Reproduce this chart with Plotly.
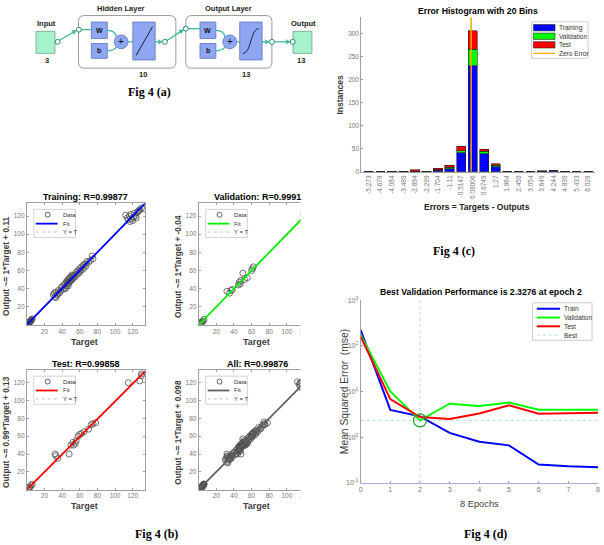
import plotly.graph_objects as go

W, H = 604, 545
def X(p): return p / W
def Y(p): return 1 - p / H

FONT = "Liberation Sans"
SERIF = "Liberation Serif"

# ---------------- Data ----------------
# Fig 4(c) error histogram
bin_labels = ["-5.273", "-4.678", "-4.084", "-3.489", "-2.894", "-2.299", "-1.704", "-1.11", "-0.5147",
              "0.08006", "0.6749", "1.27", "1.864", "2.459", "3.054", "3.649", "4.244", "4.839", "5.433", "6.028"]
hist_train = [1, 0, 0, 1, 1, 0, 3, 7, 41, 230, 39, 11, 1, 1, 0, 1, 2, 0, 0, 1]
hist_val   = [0, 0, 0, 0, 0, 1, 2, 3, 5, 36, 6, 3, 0, 0, 0, 0, 0, 0, 0, 0]
hist_test  = [0, 0, 0, 0, 3, 0, 3, 4, 10, 40, 4, 4, 0, 0, 0, 1, 0, 0, 0, 0]
hist_yticks = [0, 50, 100, 150, 200, 250, 300]

# Fig 4(d) performance
epochs = [0, 1, 2, 3, 4, 5, 6, 7, 8]
train_mse = [224, 3.95, 2.85, 1.24, 0.79, 0.66, 0.25, 0.23, 0.22]
val_mse   = [175, 10.0, 2.3276, 5.4, 4.8, 5.7, 4.0, 4.0, 4.0]
test_mse  = [161, 6.8, 2.75, 2.5, 3.3, 5.0, 3.25, 3.35, 3.4]
best_epoch = 2
best_val = 2.3276
perf_ytickvals = [0.1, 1, 10, 100, 1000]
perf_yticktext = ["10<sup>-1</sup>", "10<sup>0</sup>", "10<sup>1</sup>", "10<sup>2</sup>", "10<sup>3</sup>"]

# Fig 4(b) regression
train_t = [0.5, 1, 1.5, 2, 2.5, 3, 3.5, 4, 4.5, 5, 1, 2, 3, 4, 1.2, 2.2, 3.3, 4.4, 5.5, 6,
           30, 31, 32, 33, 34, 35, 36, 37, 38, 39, 33,
           40, 41, 42, 43, 44, 45, 46, 46, 47, 47, 48, 48, 49, 50, 50, 51, 52, 52, 53, 54, 55, 56,
           57, 58, 59, 60, 60, 61, 62, 63, 64, 65, 66, 67, 68, 70, 72, 74, 75, 44, 45, 47, 49, 51,
           112, 114, 115, 116, 117, 118, 119, 120, 121, 122, 123, 124, 125, 126, 127, 128, 130, 133]
train_o = [0.5, 1.2, 1, 2.3, 2, 3.1, 3.4, 3.8, 4.6, 5.2, 0.8, 1.8, 2.7, 4.2, 1.5, 2.6, 3.0, 4.1, 5.8, 6.5,
           33, 35, 31, 36, 33, 34, 38, 35, 37, 41, 30,
           42, 39, 44, 41, 46, 43, 48, 45, 50, 46, 47, 51, 48, 49, 53, 50, 54, 51, 52, 55, 53, 58,
           56, 60, 57, 62, 59, 60, 64, 61, 66, 63, 67, 65, 70, 69, 71, 76, 73, 40, 48, 43, 52, 55,
           121, 118, 116, 120, 114, 122, 117, 115, 119, 123, 120, 118, 124, 125, 126, 127, 129, 128]
val_t = [1, 2, 3, 4, 5, 6, 32, 35, 37, 38, 45, 46, 47, 48, 50, 52, 55, 60, 61, 62, 119, 121, 122]
val_o = [1, 2, 3, 3, 4, 6, 37, 35, 38, 39, 44, 47, 45, 49, 57, 50, 52, 60, 62, 64, 122, 117, 124]
test_t = [1, 2, 3, 4, 5, 6, 32, 33, 35, 48, 50, 52, 53, 55, 56, 58, 60, 62, 65, 70, 73, 75, 78,
          115, 128, 130, 130]
test_o = [1, 2, 3, 3, 5, 6, 40, 38, 35, 40, 50, 53, 50, 52, 55, 60, 62, 63, 65, 68, 73, 74, 75,
          120, 122, 128, 130]
all_t = train_t + val_t + test_t
all_o = train_o + val_o + test_o

reg_titles = ["Training: R=0.99877", "Validation: R=0.9991", "Test: R=0.99858", "All: R=0.99876"]
reg_ylabels = ["Output ~= 1*Target + 0.11", "Output ~= 1*Target + -0.04",
               "Output ~= 0.99*Target + 0.13", "Output ~= 1*Target + 0.098"]
fit_m = [1, 1, 0.99, 1]
fit_b = [0.11, -0.04, 0.13, 0.098]
reg_ticks = [20, 40, 60, 80, 100, 120]
reg_range = [0, 134]

# ---------------- Figure ----------------
fig = go.Figure()
shapes = []
ann = []

def text(x, y, s, size, color="#000", bold=False, family=FONT, angle=0, xanchor="center"):
    if bold:
        s = "<b>" + s + "</b>"
    ann.append(dict(x=X(x), y=Y(y), xref="paper", yref="paper", text=s, showarrow=False,
                    font=dict(family=family, size=size, color=color), textangle=angle,
                    xanchor=xanchor, yanchor="middle"))

# ---- Histogram (axis 1) ----
colors_h = ["#0000ff", "#00ff00", "#ff0000"]
for name, vals, c in zip(["Training", "Validation", "Test"], [hist_train, hist_val, hist_test], colors_h):
    fig.add_trace(go.Bar(x=list(range(len(bin_labels))), y=vals, name=name, width=0.8,
                         marker=dict(color=c, line=dict(color="#222", width=0.6)),
                         xaxis="x", yaxis="y"))
c8, c9 = float(bin_labels[8]), float(bin_labels[9])
zero_idx = 8 + (0 - c8) / (c9 - c8)
hist_top = 336
fig.add_trace(go.Scatter(x=[zero_idx, zero_idx], y=[0, hist_top], mode="lines",
                         line=dict(color="#ffa500", width=1.5), xaxis="x", yaxis="y"))

# ---- Regression (axes 2-5) ----
reg_sets = [(train_t, train_o, "#0000ff"), (val_t, val_o, "#00ee00"),
            (test_t, test_o, "#ff0000"), (all_t, all_o, "#606060")]
for i, (t, o, c) in enumerate(reg_sets):
    n = i + 2
    xa, ya = f"x{n}", f"y{n}"
    fig.add_trace(go.Scatter(x=reg_range, y=reg_range, mode="lines",
                             line=dict(color="#c0c0c0", width=1, dash="dot"), xaxis=xa, yaxis=ya))
    fig.add_trace(go.Scatter(x=t, y=o, mode="markers",
                             marker=dict(symbol="circle-open", size=6, color="#505050",
                                         line=dict(width=0.8)), xaxis=xa, yaxis=ya))
    fig.add_trace(go.Scatter(x=reg_range, y=[fit_m[i] * v + fit_b[i] for v in reg_range], mode="lines",
                             line=dict(color=c, width=1.8), xaxis=xa, yaxis=ya))

# ---- Performance (axis 6) ----
fig.add_trace(go.Scatter(x=[best_epoch, best_epoch], y=[0.1, 1000], mode="lines",
                         line=dict(color="#a8e0e0", width=1, dash="dot"), xaxis="x6", yaxis="y6"))
fig.add_trace(go.Scatter(x=[epochs[0], epochs[-1]], y=[best_val, best_val], mode="lines",
                         line=dict(color="#a8e8c0", width=1, dash="dot"), xaxis="x6", yaxis="y6"))
for vals, c in [(train_mse, "#0000ff"), (val_mse, "#00ff00"), (test_mse, "#ff0000")]:
    fig.add_trace(go.Scatter(x=epochs, y=vals, mode="lines", line=dict(color=c, width=2),
                             xaxis="x6", yaxis="y6"))
fig.add_trace(go.Scatter(x=[best_epoch], y=[best_val], mode="markers",
                         marker=dict(symbol="circle-open", size=13, color="#20a020", line=dict(width=1.2)),
                         xaxis="x6", yaxis="y6"))

tickfont = dict(family=FONT, size=6.5, color="#777")
axcol = "#a0a0a0"
layout = dict(
    width=W, height=H, margin=dict(l=0, r=0, t=0, b=0), paper_bgcolor="white", plot_bgcolor="white",
    showlegend=False, barmode="stack", bargap=0.2,
    xaxis=dict(domain=[X(361.7), X(597)], range=[-0.65, 19.6], anchor="y",
               tickvals=list(range(len(bin_labels))), ticktext=bin_labels, tickangle=-90,
               tickfont=tickfont, showline=True, linecolor=axcol, ticks="", showgrid=False,
               zeroline=False),
    yaxis=dict(domain=[Y(170), Y(13.3)], range=[0, hist_top], anchor="x", tickvals=hist_yticks,
               tickfont=tickfont, showline=True, linecolor=axcol, ticks="inside", ticklen=2,
               tickcolor=axcol, showgrid=False, zeroline=False),
    xaxis6=dict(domain=[X(361), X(600)], range=[0, 8], anchor="y6", tickvals=epochs,
                tickfont=dict(family=FONT, size=7, color="#777"), showline=True, linecolor="#a8b0d8",
                ticks="inside", ticklen=2, tickcolor=axcol, showgrid=False, zeroline=False),
    yaxis6=dict(domain=[Y(485), Y(300)], type="log", range=[-1, 3], anchor="x6",
                tickvals=perf_ytickvals, ticktext=perf_yticktext,
                tickfont=dict(family=FONT, size=7, color="#777"), showline=True, linecolor=axcol,
                ticks="inside", ticklen=2, tickcolor=axcol, showgrid=False, zeroline=False),
)
reg_boxes = [(25, 144, 202, 325), (198, 317, 202, 325), (25, 144, 371, 492), (198, 317, 371, 492)]
for i, (x0, x1, y0, y1) in enumerate(reg_boxes):
    n = i + 2
    common = dict(range=reg_range, tickvals=reg_ticks, tickfont=tickfont, showline=True, mirror="ticks",
                  linecolor=axcol, ticks="inside", ticklen=2, tickcolor=axcol, showgrid=False,
                  zeroline=False)
    layout[f"xaxis{n}"] = dict(domain=[X(x0), X(x1)], anchor=f"y{n}", **common)
    layout[f"yaxis{n}"] = dict(domain=[Y(y1), Y(y0)], anchor=f"x{n}", **common)

    cx = (x0 + x1) / 2
    text(cx, y0 - 6.5, reg_titles[i], 9, "#000", bold=True)
    text(cx - 1, y1 + 17, "Target", 9, "#404040", bold=True)
    text(x0 - 21, (y0 + y1) / 2 + 2, reg_ylabels[i], 8.3, "#404040", bold=True, angle=-90)

    # legend box
    lx0, lx1, ly0, ly1 = x0 + 7, x0 + 49, y0 + 6, y0 + 34.5
    shapes.append(dict(type="rect", xref="paper", yref="paper", x0=X(lx0), x1=X(lx1), y0=Y(ly1), y1=Y(ly0),
                       fillcolor="white", line=dict(color="#c8c8c8", width=0.8), layer="above"))
    r1, r2, r3 = y0 + 11.5, y0 + 20.5, y0 + 29
    shapes.append(dict(type="circle", xref="paper", yref="paper", x0=X(x0 + 18.5), x1=X(x0 + 23.5),
                       y0=Y(r1 + 2.5), y1=Y(r1 - 2.5), line=dict(color="#3a3a3a", width=0.8), layer="above"))
    shapes.append(dict(type="line", xref="paper", yref="paper", x0=X(x0 + 9), x1=X(x0 + 31),
                       y0=Y(r2), y1=Y(r2), line=dict(color=reg_sets[i][2], width=1.8), layer="above"))
    shapes.append(dict(type="line", xref="paper", yref="paper", x0=X(x0 + 9), x1=X(x0 + 31),
                       y0=Y(r3), y1=Y(r3), line=dict(color="#c0c0c0", width=1, dash="dot"), layer="above"))
    for rr, s in [(r1, "Data"), (r2, "Fit"), (r3, "Y = T")]:
        text(x0 + 34, rr, s, 6, "#333", xanchor="left")

# cover right part of cropped validation/all panels
shapes.append(dict(type="rect", xref="paper", yref="paper", x0=X(300.5), x1=X(330), y0=Y(520), y1=Y(185),
                   fillcolor="white", line=dict(width=0), layer="above"))

# histogram legend
shapes.append(dict(type="rect", xref="paper", yref="paper", x0=X(533), x1=X(590), y0=Y(55), y1=Y(18),
                   fillcolor="white", line=dict(color="#c0c0c0", width=0.8), layer="above"))
for k, (s, c) in enumerate(zip(["Training", "Validation", "Test"], colors_h)):
    ry = 24 + k * 8.7
    shapes.append(dict(type="rect", xref="paper", yref="paper", x0=X(535), x1=X(556.7), y0=Y(ry + 3.2),
                       y1=Y(ry - 3.2), fillcolor=c, line=dict(color="#222", width=0.6), layer="above"))
    text(558.3, ry, s, 6.5, "#333", xanchor="left")
shapes.append(dict(type="line", xref="paper", yref="paper", x0=X(535), x1=X(556.7), y0=Y(50), y1=Y(50),
                   line=dict(color="#ffa500", width=1.2), layer="above"))
text(558.3, 50, "Zero Error", 6.5, "#333", xanchor="left")

# perf legend
shapes.append(dict(type="rect", xref="paper", yref="paper", x0=X(534), x1=X(594), y0=Y(340.7), y1=Y(302.7),
                   fillcolor="white", line=dict(color="#c0c0c0", width=0.8), layer="above"))
for k, (s, c) in enumerate(zip(["Train", "Validation", "Test", "Best"],
                               ["#0000ff", "#00ff00", "#ff0000", "#b0e8c8"])):
    ry = 308.7 + k * 8.9
    shapes.append(dict(type="line", xref="paper", yref="paper", x0=X(538.3), x1=X(561.7), y0=Y(ry), y1=Y(ry),
                       line=dict(color=c, width=2 if k < 3 else 1, dash="solid" if k < 3 else "dot"),
                       layer="above"))
    text(563.3, ry, s, 6.5, "#333", xanchor="left")

# panel titles / labels
text(479.5, 6.7, "Error Histogram with 20 Bins", 8.7, "#000", bold=True)
text(340, 92, "Instances", 8.5, "#404040", bold=True, angle=-90)
text(478, 205.7, "Errors = Targets - Outputs", 8.5, "#222", bold=True)
text(481.7, 291.7, "Best Validation Performance is 2.3276 at epoch 2", 8.7, "#000", bold=True)
text(345, 392.5, "Mean Squared Error  (mse)", 10.3, "#404040", angle=-90)
text(480.5, 506, "8 Epochs", 9.3, "#404040")

# captions
text(148, 89, "Fig 4 (a)", 12, "#000", bold=True, family=SERIF)
text(156, 537.3, "Fig 4 (b)", 12, "#000", bold=True, family=SERIF)
text(455, 250, "Fig 4 (c)", 12, "#000", bold=True, family=SERIF)
text(486.7, 536.7, "Fig 4 (d)", 12, "#000", bold=True, family=SERIF)

# ---------------- Fig 4(a) network diagram ----------------
GREEN_F, GREEN_L = "#a6f2cc", "#6aa58c"
BLUE_F, BLUE_L = "#8fa6f2", "#5a70c0"
TEAL = "#3cb89c"

def prect(x0, y0, x1, y1, fill, line, lw=0.8):
    shapes.append(dict(type="rect", xref="paper", yref="paper", x0=X(x0), x1=X(x1), y0=Y(y1), y1=Y(y0),
                       fillcolor=fill, line=dict(color=line, width=lw)))

def pcircle(cx, cy, r, fill, line, lw=0.8):
    shapes.append(dict(type="circle", xref="paper", yref="paper", x0=X(cx - r), x1=X(cx + r),
                       y0=Y(cy + r), y1=Y(cy - r), fillcolor=fill, line=dict(color=line, width=lw)))

def ppath(pts_cmd, color, lw=1.2, fill=None):
    shapes.append(dict(type="path", xref="paper", yref="paper", path=pts_cmd,
                       line=dict(color=color, width=lw), fillcolor=fill))

def P(x, y):
    return f"{X(x):.5f},{Y(y):.5f}"

def rounded(x0, y0, x1, y1, r):
    return (f"M {P(x0 + r, y0)} L {P(x1 - r, y0)} Q {P(x1, y0)} {P(x1, y0 + r)} "
            f"L {P(x1, y1 - r)} Q {P(x1, y1)} {P(x1 - r, y1)} L {P(x0 + r, y1)} "
            f"Q {P(x0, y1)} {P(x0, y1 - r)} L {P(x0, y0 + r)} Q {P(x0, y0)} {P(x0 + r, y0)} Z")

def arrow(tx, ty, hx, hy):
    import math
    dx, dy = hx - tx, hy - ty
    L = math.hypot(dx, dy)
    ux, uy = dx / L, dy / L
    hl, hw = 4.0, 2.2
    bx, by = hx - ux * hl, hy - uy * hl
    ppath(f"M {P(tx, ty)} L {P(bx, by)}", TEAL, 1.3)
    ppath(f"M {P(hx, hy)} L {P(bx - uy * hw, by + ux * hw)} L {P(bx + uy * hw, by - ux * hw)} Z",
          TEAL, 0.5, TEAL)

# layer boxes
ppath(rounded(77, 11.7, 175, 65, 6), "#9a9a9a", 1, "white")
ppath(rounded(185, 11.7, 271.7, 65, 6), "#9a9a9a", 1, "white")

# input / output squares
prect(34.3, 27.7, 53.3, 50, GREEN_F, GREEN_L)
prect(293, 27.7, 312, 50, GREEN_F, GREEN_L)
text(45, 20, "Input", 7.5, "#222", bold=True)
text(45, 57, "3", 7.5, "#222", bold=True)
text(304, 20, "Output", 7.5, "#222", bold=True)
text(301, 57, "13", 7.5, "#222", bold=True)
text(120, 5, "Hidden Layer", 7.5, "#222", bold=True)
text(228, 5, "Output Layer", 7.5, "#222", bold=True)
text(141.7, 71.7, "10", 7.5, "#222", bold=True)
text(246, 71.7, "13", 7.5, "#222", bold=True)

for (bx, px_, tx0) in [(90, 120, 131.7), (199.3, 229.3, 239.3)]:
    prect(bx, 18.3, bx + 16, 35, BLUE_F, BLUE_L)
    prect(bx, 40, bx + 16, 55, BLUE_F, BLUE_L)
    text(bx + 8, 26.7, "W", 7, "#111", bold=True)
    text(bx + 8, 47.5, "b", 7, "#111", bold=True)
    ppath(f"M {P(bx + 16, 26.7)} Q {P(px_ - 6, 27)} {P(px_ - 5, 33)}", TEAL, 1.3)
    ppath(f"M {P(bx + 16, 47.5)} Q {P(px_ - 6, 47)} {P(px_ - 5, 43.5)}", TEAL, 1.3)
    pcircle(px_, 38.3, 7, BLUE_F, BLUE_L)
    text(px_, 38.3, "+", 10, "#111")
    ppath(f"M {P(px_ + 7, 38.3)} L {P(tx0, 38.3)}", TEAL, 1.3)
    prect(tx0, 18.3, tx0 + 22.5, 56.7, BLUE_F, BLUE_L)

ppath(f"M {P(135, 52)} L {P(151.5, 23)}", "#1a1a40", 1)
ppath(f"M {P(242.5, 50)} C {P(251, 50)} {P(250, 25)} {P(258.5, 25)}", "#1a1a40", 1)

arrow(57.5, 37, 74.8, 26.8)
ppath(f"M {P(79.5, 26)} L {P(90, 26)}", TEAL, 1.3)
arrow(154.2, 38.3, 161.5, 38.3)
arrow(166, 37, 182.6, 26)
ppath(f"M {P(187.5, 25)} L {P(199.3, 25)}", TEAL, 1.3)
arrow(261.8, 38.3, 269.2, 38.3)
arrow(274.2, 38.3, 290.2, 38.3)
for (cx, cy) in [(56, 38.3), (77.3, 26), (164, 38.3), (185, 25), (271.7, 38.3), (292.7, 38.3)]:
    pcircle(cx, cy, 2.5, "white", "#2a8a78", 1)

layout["shapes"] = shapes
layout["annotations"] = ann
fig.update_layout(**layout)
fig.write_html("out.html", config={"displayModeBar": False},
               post_script="document.body.style.margin='0';document.body.style.overflow='hidden';")
